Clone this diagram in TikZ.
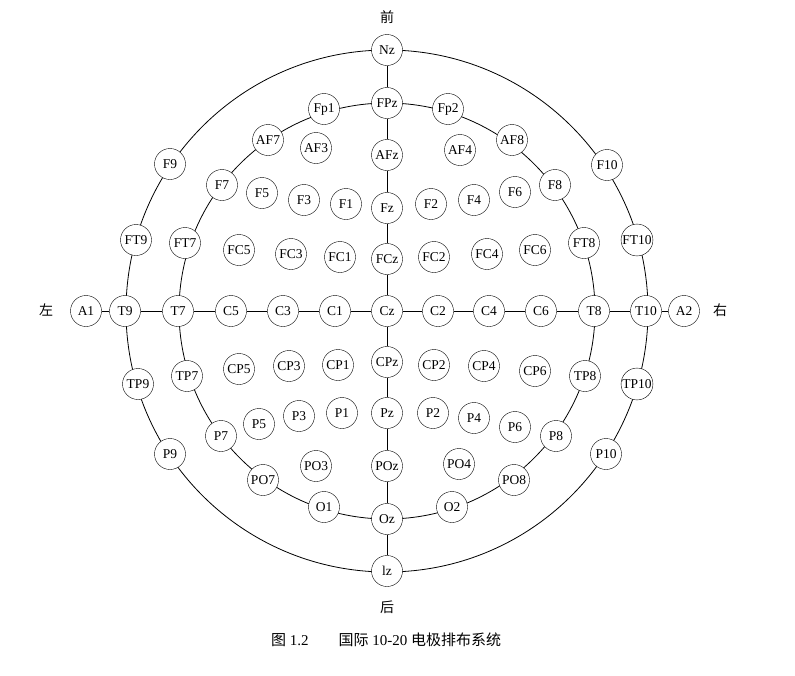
\documentclass[tikz,border=0pt]{standalone}
\usepackage{fontspec}
\setmainfont{Liberation Serif}
\newfontfamily\cjk{Noto Sans CJK SC}
\begin{document}
\begin{tikzpicture}[x=1pt,y=-1pt,
  el/.style={circle,draw,fill=white,minimum size=31pt,inner sep=0.5pt,font=\fontsize{13.5}{13}\selectfont},
  lab/.style={font=\cjk\fontsize{14}{14}\selectfont}]
\useasboundingbox (0,0) rectangle (795,675);
\draw[line width=0.8pt] (387,311) circle (261);
\draw[line width=0.8pt] (387,311) circle (208);
\foreach \n/\x/\y in {Nz/387/50,FPz/387/103,Fp1/324/109,Fp2/448/109,AF7/268/140,AF3/316/148,AFz/387/155,AF4/460/150,AF8/512/140,F9/170/164,F10/607/165,F7/222/185,F5/262/193,F3/304/200,F1/346/204,Fz/387/208,F2/431/204,F4/474/200,F6/515/192,F8/555/185,FT9/136/240,FT7/185/243,FC5/239/250,FC3/291/254,FC1/340/257,FCz/387/259,FC2/434/257,FC4/487/254,FC6/535/250,FT8/584/243,FT10/637/240,A1/86/311,T9/125/311,T7/178/311,C5/231/311,C3/283/311,C1/335/311,Cz/387/311,C2/438/311,C4/489/311,C6/541/311,T8/594/311,T10/646/311,A2/684/311,TP9/138/384,TP7/187/376,CP5/239/369,CP3/289/366,CP1/338/365,CPz/387/362,CP2/434/365,CP4/484/366,CP6/535/371,TP8/585/376,TP10/637/384,P9/170/454,P7/221/436,P5/259/424,P3/299/416,P1/342/413,Pz/387/413,P2/433/413,P4/474/418,P6/515/427,P8/556/436,P10/606/454,PO7/263/480,PO3/316/466,POz/387/466,PO4/459/464,PO8/514/480,O1/324/507,Oz/387/519,O2/452/507}
  \node[el] (\n) at (\x,\y) {\n};
\node[el] (Iz) at (387,571) {lz};
\draw[line width=0.8pt] (A1)--(T9)--(T7)--(C5)--(C3)--(C1)--(Cz)--(C2)--(C4)--(C6)--(T8)--(T10)--(A2);
\draw[line width=0.8pt] (Nz)--(FPz)--(AFz)--(Fz)--(FCz)--(Cz)--(CPz)--(Pz)--(POz)--(Oz)--(Iz);
\node[lab] (front) at (387,17) {前};
\node[lab] (back) at (387,607) {后};
\node[lab] (left) at (46,310) {左};
\node[lab] (right) at (720,310) {右};
\node[font=\fontsize{15}{15}\selectfont] (cap) at (386,640) {{\cjk 图} 1.2\hspace{2em}{\cjk 国际} 10-20 {\cjk 电极排布系统}};
\end{tikzpicture}
\end{document}
